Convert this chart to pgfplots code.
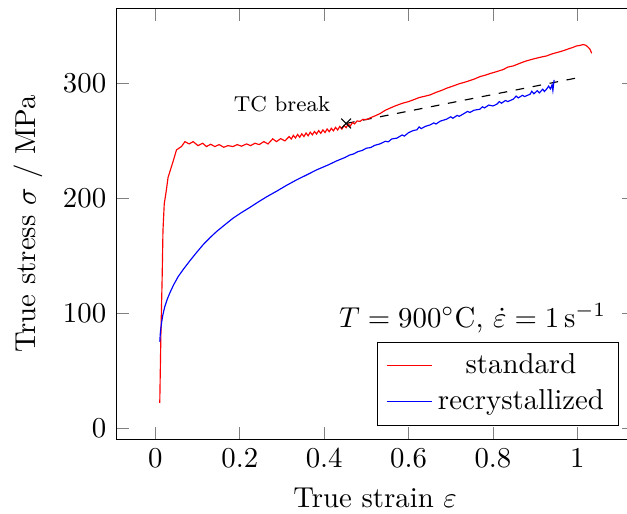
\documentclass[border=0pt]{standalone}
\usepackage{pgfplots}
\pgfplotsset{compat=1.18}
\usetikzlibrary{calc}
\begin{document}
\begin{tikzpicture}
\begin{axis}[
  scale only axis,
  width=179.7pt, height=149.4pt,
  xmin=-0.0925, xmax=1.134, ymin=-9.6, ymax=364.6,
  xtick={0,0.2,0.4,0.6,0.8,1},
  ytick={0,100,200,300},
  xlabel={True strain $\varepsilon$},
  ylabel={True stress $\sigma$ / MPa},
  legend cell align=center,
  legend style={at={(0.971,0.031)}, anchor=south east},
  legend image code/.code={\draw[#1] plot coordinates {(0cm,0cm) (0.55cm,0cm)};},
]
\addplot[black, dashed, forget plot] coordinates {(0.452,265) (0.995,304.3)};
\addplot[red] coordinates {
(0.0104,22) (0.013,80) (0.016,130) (0.018,172) (0.021,195) (0.026,207) (0.030,218)
(0.036,225) (0.042,232) (0.050,242) (0.062,245) (0.070,249.2) (0.080,247.2)
(0.0895,249.2) (0.101,245.7) (0.112,247.8) (0.121,244.9) (0.131,246.9) (0.141,244.9)
(0.151,246.6) (0.162,244.3) (0.172,245.7) (0.184,244.9) (0.194,246.6) (0.204,245.2)
(0.216,247.2) (0.2255,245.7) (0.236,247.8) (0.246,246.6) (0.257,249.2) (0.267,247.2)
(0.278,251.6) (0.287,249.2) (0.297,251.8) (0.307,249.8) (0.317,253.6)
(0.322,251.5) (0.327,254.6) (0.332,252.4) (0.337,255.4) (0.342,253.0) (0.347,256.0)
(0.352,253.6) (0.357,256.7) (0.362,254.3) (0.367,257.4) (0.372,255.1) (0.377,258.0)
(0.382,255.8) (0.387,258.8) (0.392,256.4) (0.397,259.4) (0.402,257.1) (0.407,260.2)
(0.412,257.8) (0.417,260.8) (0.422,258.6) (0.427,261.6) (0.432,259.3) (0.437,262.4)
(0.442,260.1) (0.447,263.2) (0.452,261.3) (0.457,264.4) (0.462,262.8) (0.467,265.8)
(0.472,264.6) (0.478,267.2) (0.485,266.8) (0.492,268.6) (0.500,268.3) (0.51,270)
(0.52,271.5) (0.532,273.5) (0.545,276.5) (0.556,278.3) (0.57,280.5) (0.585,282.5)
(0.6,284) (0.611,285.5) (0.625,287.5) (0.64,288.8) (0.651,289.8) (0.665,292)
(0.68,294) (0.69,295.6) (0.705,297.5) (0.72,299.5) (0.738,301.4) (0.755,303.5)
(0.769,305.7) (0.78,306.8) (0.795,308.6) (0.809,310.1) (0.825,312) (0.835,314)
(0.848,315) (0.865,317.5) (0.876,319) (0.888,320.3) (0.90,321.5) (0.915,322.8)
(0.927,323.7) (0.94,325.5) (0.955,327) (0.967,328.3) (0.98,330) (0.99,331.2)
(0.998,332.4) (1.005,332.8) (1.014,333.6) (1.02,333) (1.025,331.5) (1.03,329.5)
(1.034,326)
};
\addlegendentry{standard}
\addplot[blue] coordinates {
(0.0104,75.3) (0.012,84) (0.0145,91.3) (0.018,99) (0.0223,105.7) (0.028,112)
(0.034,117.4) (0.043,124.5) (0.054,131.8) (0.067,138.5) (0.0816,145.5) (0.097,152.5)
(0.113,159.5) (0.129,165.5) (0.145,171) (0.165,177) (0.184,182.6) (0.204,187.5)
(0.224,192) (0.245,197) (0.265,201.5) (0.287,206) (0.31,211) (0.335,216)
(0.36,220.5) (0.382,224.6) (0.41,229) (0.43,232.5) (0.45,235.5) (0.46,237.5)
(0.47,238.5) (0.48,240.5) (0.49,241.5) (0.5,243.5) (0.51,244) (0.52,246)
(0.532,247.2) (0.545,249.5) (0.552,249) (0.56,251.5) (0.572,252.2) (0.585,255)
(0.59,254) (0.6,257) (0.611,258.8) (0.62,259.5) (0.625,262) (0.63,260.5)
(0.64,262.5) (0.651,263.7) (0.66,265.5) (0.665,264.5) (0.675,267) (0.69,268.7)
(0.70,270.8) (0.705,269.5) (0.715,272) (0.72,271.2) (0.73,273.3) (0.74,275.5)
(0.745,274.5) (0.755,276.5) (0.769,277.4) (0.775,279.5) (0.78,278.5) (0.79,281)
(0.80,280.2) (0.809,281.7) (0.815,284) (0.82,282.6) (0.83,285) (0.835,284)
(0.848,286.1) (0.855,288.8) (0.86,287.2) (0.87,289.5) (0.875,288.4) (0.888,290.4)
(0.892,293) (0.897,290.8) (0.905,293.5) (0.91,291.6) (0.918,294.8) (0.922,292.8)
(0.927,294.8) (0.932,297.5) (0.936,295) (0.94,298.5) (0.942,293.6) (0.945,302.9)
};
\addlegendentry{recrystallized}
\addplot[black, only marks, mark=x, mark size=2.4pt, forget plot] coordinates {(0.452,265)}
  node[anchor=south east, font=\fontsize{7.5}{9}\selectfont, xshift=-2.0pt, yshift=0.6pt] {TC break};
\node[anchor=east, inner sep=0pt] at (rel axis cs:0.948,0.281)
  {$T = 900^{\circ}\mathrm{C}$, $\dot{\varepsilon} = 1\,\mathrm{s}^{-1}$};
\end{axis}
\pgfresetboundingbox
\path[use as bounding box] ($(current axis.south west)+(-40.4pt,-25.9pt)$) rectangle ($(current axis.north east)+(-2.4pt,3.1pt)$);
\end{tikzpicture}
\end{document}
